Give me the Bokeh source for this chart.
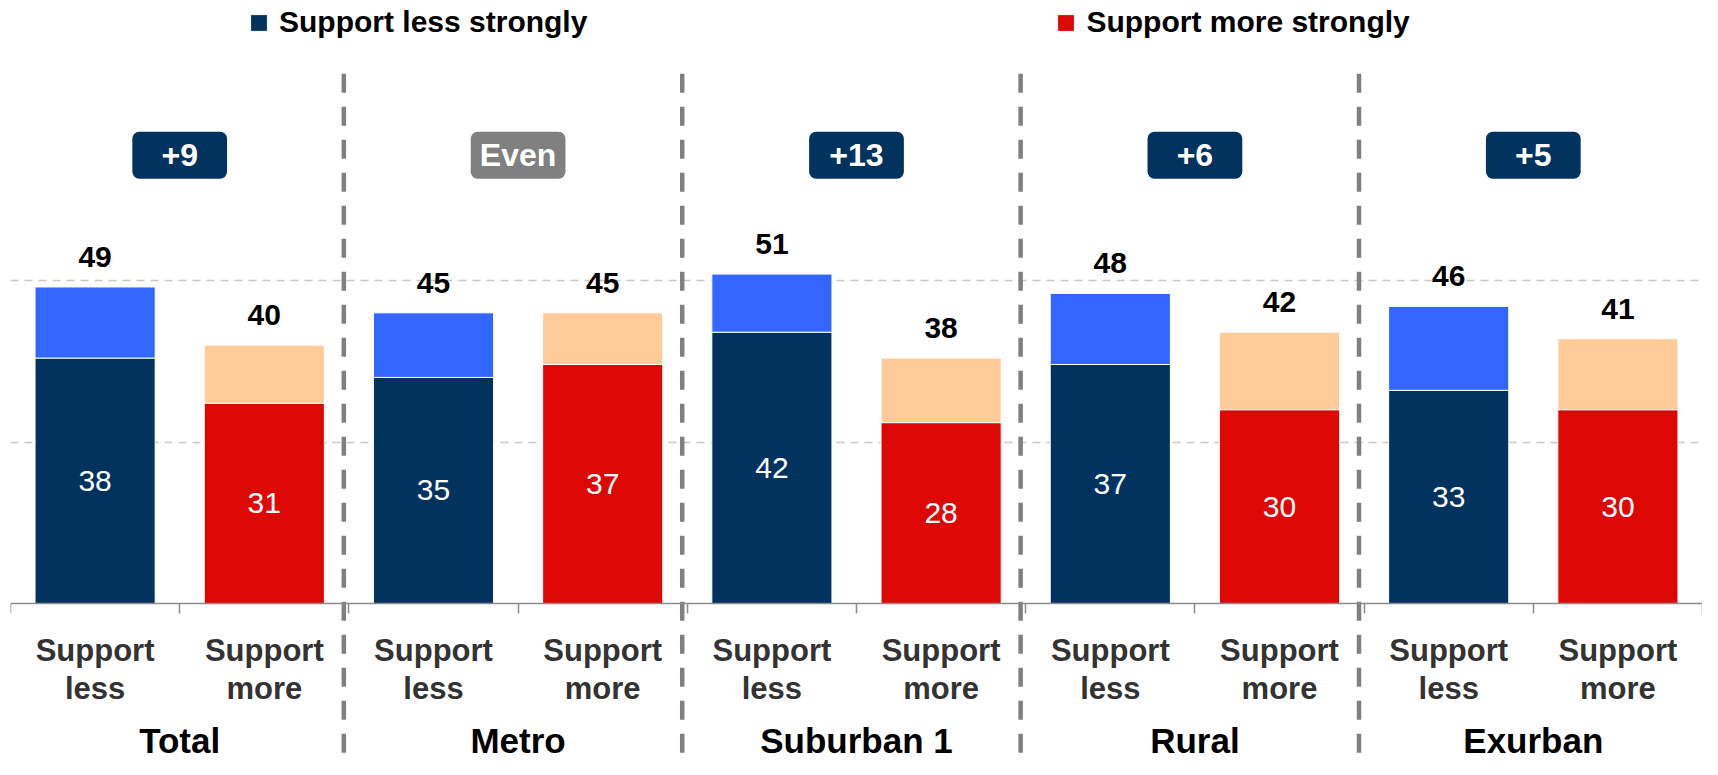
from bokeh.plotting import figure
from bokeh.models import (Range1d, LinearAxis, FixedTicker, Grid, Legend, LegendItem,
                          ColumnDataSource)
from bokeh.core.properties import value
from bokeh.embed import file_html
from bokeh.resources import INLINE

# ---------------- data ----------------
groups = ["Total", "Metro", "Suburban 1", "Rural", "Exurban"]
sub_labels_top = ["Support", "Support"]
sub_labels_bottom = ["less", "more"]
less_strong = [38, 35, 42, 37, 33]
less_total = [49, 45, 51, 48, 46]
more_strong = [31, 37, 28, 30, 30]
more_total = [40, 45, 38, 42, 41]
margin_labels = ["+9", "Even", "+13", "+6", "+5"]
margin_is_even = [False, True, False, False, False]
legend_labels = ["Support less strongly", "Support more strongly"]

# ---------------- styling ----------------
NAVY = "#02335f"
LIGHT_BLUE = "#3366ff"
RED = "#dd0806"
PEACH = "#ffcc99"
GRAY = "#808080"
FONT = "Liberation Sans"

n = len(groups)
UNIT = 2.0                       # data units per category slot
x_less = [UNIT * (2 * i) + UNIT / 2 for i in range(n)]
x_more = [UNIT * (2 * i + 1) + UNIT / 2 for i in range(n)]
x_group = [UNIT * (2 * i + 1) for i in range(n)]
bar_w = 0.71 * UNIT

Y_BOTTOM, Y_TOP = -24.15, 93.35

p = figure(width=1702, height=759, output_backend="svg", toolbar_location=None,
           x_axis_type=None, y_axis_type=None,
           x_range=Range1d(0, UNIT * 2 * n), y_range=Range1d(Y_BOTTOM, Y_TOP),
           min_border_left=10, min_border_right=0, min_border_top=0, min_border_bottom=0)
p.outline_line_color = None
p.background_fill_color = "white"

p.add_layout(Grid(dimension=1, ticker=FixedTicker(ticks=[25, 50]),
                  grid_line_color="#c8c8c8", grid_line_dash="8 6", grid_line_width=1.5))

src_less = ColumnDataSource(dict(x=x_less, strong=less_strong, total=less_total,
                                 mid=[v / 2 for v in less_strong],
                                 s_txt=[str(v) for v in less_strong],
                                 t_txt=[str(v) for v in less_total]))
src_more = ColumnDataSource(dict(x=x_more, strong=more_strong, total=more_total,
                                 mid=[v / 2 for v in more_strong],
                                 s_txt=[str(v) for v in more_strong],
                                 t_txt=[str(v) for v in more_total]))

r_less = p.vbar(x="x", width=bar_w, bottom=0, top="strong", source=src_less,
                fill_color=NAVY, line_color="white", line_width=1)
p.vbar(x="x", width=bar_w, bottom="strong", top="total", source=src_less,
       fill_color=LIGHT_BLUE, line_color="white", line_width=1)
r_more = p.vbar(x="x", width=bar_w, bottom=0, top="strong", source=src_more,
                fill_color=RED, line_color="white", line_width=1)
p.vbar(x="x", width=bar_w, bottom="strong", top="total", source=src_more,
       fill_color=PEACH, line_color="white", line_width=1)

for src in (src_less, src_more):
    p.text(x="x", y="mid", text="s_txt", source=src, text_color="white",
           text_font=value(FONT), text_font_size="30px",
           text_align="center", text_baseline="middle")
    p.text(x="x", y="total", text="t_txt", source=src, text_color="black",
           text_font=value(FONT), text_font_size="30px", text_font_style="bold",
           text_align="center", text_baseline="middle", y_offset=-30)

# separators
seps = [UNIT * 2 * (i + 1) - 0.06 for i in range(n - 1)]
p.segment(x0=seps, x1=seps, y0=[82.0] * len(seps), y1=[Y_BOTTOM] * len(seps),
          line_color=GRAY, line_width=4.5, line_dash="19 14")

# margin badges
badge_colors = [GRAY if e else NAVY for e in margin_is_even]
p.rect(x=x_group, y=[69.4] * n, width=0.56 * UNIT, height=47, height_units="screen",
       fill_color=badge_colors, line_color=None, border_radius=7)
p.text(x=x_group, y=[69.4] * n, text=margin_labels, text_color="white",
       text_font=value(FONT), text_font_size="32px", text_font_style="bold",
       text_align="center", text_baseline="middle")

# axes (fixed at y=0 inside frame)
tick_positions = [UNIT * k for k in range(2 * n + 1)]
ax_ticks = LinearAxis(ticker=FixedTicker(ticks=tick_positions), fixed_location=0,
                      major_tick_out=10, major_tick_in=0, minor_tick_out=0, minor_tick_in=0,
                      axis_line_color="#8c8c8c", axis_line_width=1.5,
                      major_tick_line_color="#8c8c8c", major_tick_line_width=1.5,
                      major_label_overrides={t: "" for t in tick_positions})
p.add_layout(ax_ticks, "below")

centers = sorted(x_less + x_more)
ov_top = {}
ov_bot = {}
for i in range(n):
    ov_top[x_less[i]] = sub_labels_top[0]
    ov_top[x_more[i]] = sub_labels_top[1]
    ov_bot[x_less[i]] = sub_labels_bottom[0]
    ov_bot[x_more[i]] = sub_labels_bottom[1]


def label_axis(ticks, overrides, standoff, size, color):
    ax = LinearAxis(ticker=FixedTicker(ticks=ticks), fixed_location=0,
                    major_tick_out=0, major_tick_in=0, minor_tick_out=0, minor_tick_in=0,
                    axis_line_color=None, major_tick_line_color=None,
                    major_label_overrides=overrides, major_label_standoff=standoff,
                    major_label_text_font=FONT, major_label_text_font_size=size,
                    major_label_text_font_style="bold", major_label_text_color=color)
    p.add_layout(ax, "below")
    return ax


label_axis(centers, ov_top, 29, "31px", "#333333")
label_axis(centers, ov_bot, 67, "31px", "#333333")
label_axis(x_group, {x_group[i]: groups[i] for i in range(n)}, 117, "35px", "black")

legend = Legend(items=[LegendItem(label=legend_labels[0], renderers=[r_less]),
                       LegendItem(label=legend_labels[1], renderers=[r_more])],
                orientation="horizontal", location=(238, 720), spacing=468,
                glyph_width=21, glyph_height=21, label_standoff=10,
                padding=0, margin=0, border_line_color=None, background_fill_alpha=0,
                label_text_font=FONT, label_text_font_size="30px",
                label_text_font_style="bold", label_text_color="black", label_height=30)
p.add_layout(legend)

open("out.html", "w").write(file_html(p, INLINE))
